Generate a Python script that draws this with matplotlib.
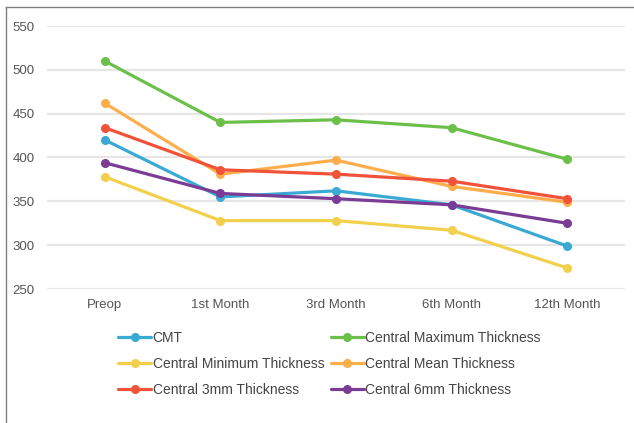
import matplotlib
matplotlib.use('Agg')
import matplotlib.pyplot as plt
from matplotlib.lines import Line2D

plt.rcParams['font.family'] = ['Liberation Sans', 'DejaVu Sans']

# categorías del eje x
meses = ['Preop', '1st Month', '3rd Month', '6th Month', '12th Month']

# series (micras)
cmt = [420, 355, 362, 346, 299]
c_max = [510, 440, 443, 434, 398]
c_min = [378, 328, 328, 317, 274]
c_mean = [462, 381, 397, 367, 349]
c_3mm = [434, 386, 381, 373, 353]
c_6mm = [394, 359, 353, 346, 325]

nombres = ['CMT', 'Central Maximum Thickness', 'Central Minimum Thickness',
           'Central Mean Thickness', 'Central 3mm Thickness', 'Central 6mm Thickness']
series = [cmt, c_max, c_min, c_mean, c_3mm, c_6mm]
colores = ['#3aaad4', '#6cc04a', '#f2d04b', '#fdae4b', '#f1523a', '#7b3c96']

fig = plt.figure(figsize=(6.34, 4.23), dpi=100)
ax = fig.add_axes([47/634, 1-289/423, (625-47)/634, (289-26)/423])

x = range(len(meses))
lineas = []
for s, nom, col in zip(series, nombres, colores):
    l, = ax.plot(x, s, color=col, lw=2.3, marker='o', ms=5.5, label=nom,
                 clip_on=False, solid_capstyle='round')
    lineas.append(l)

ax.set_xlim(-0.5, 4.5)
ax.set_ylim(250, 550)
ax.set_yticks([250, 300, 350, 400, 450, 500, 550])
ax.set_xticks(list(x))
ax.set_xticklabels(meses)
ax.grid(axis='y', color='#e6e6e6', lw=1.6)
ax.set_axisbelow(True)
for sp in ax.spines.values():
    sp.set_visible(False)
ax.tick_params(length=0, labelsize=9.5, labelcolor='#555555')
ax.tick_params(axis='y', pad=9)
ax.tick_params(axis='x', pad=7)

# leyenda: orden por filas
orden = [0, 2, 4, 1, 3, 5]
fig.legend([lineas[i] for i in orden], [nombres[i] for i in orden],
           ncol=2, loc='upper left', bbox_to_anchor=(118/634, 1-331/423),
           frameon=False, fontsize=10, handlelength=2.4, handletextpad=0.1,
           columnspacing=0.45, labelspacing=0.87, borderpad=0, borderaxespad=0,
           labelcolor='#444444')

# borde
fig.add_artist(Line2D([6/634, 6/634], [0, 1-7/423], color='#808080', lw=1))
fig.add_artist(Line2D([6/634, 1], [1-7/423, 1-7/423], color='#808080', lw=1))

plt.savefig('out.png', dpi=100)
